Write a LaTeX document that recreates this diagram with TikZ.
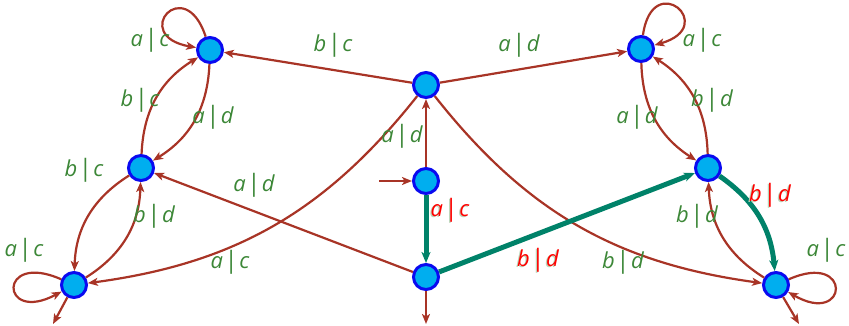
\documentclass[tikz,border=0pt]{standalone}
\usepackage{fontspec}
\setmainfont{Open Sans}
\usetikzlibrary{arrows.meta}
\definecolor{edgec}{RGB}{168,52,38}
\definecolor{labc}{RGB}{60,135,55}
\definecolor{hic}{RGB}{0,130,105}
\definecolor{nodef}{RGB}{0,174,239}
\definecolor{nodeb}{RGB}{10,10,240}
\definecolor{redc}{RGB}{255,0,0}
\tikzset{
  st/.style={circle,draw=nodeb,fill=nodef,line width=3pt,minimum size=25pt,inner sep=0pt},
  tr/.style={draw=edgec,line width=2.2pt,-{Stealth[length=10pt,width=8pt,inset=2.5pt]}},
  hl/.style={draw=hic,line width=5pt,-{Stealth[length=11pt,width=9pt,inset=3pt]}},
  lab/.style={text=labc,font=\fontsize{22}{22}\selectfont\itshape,inner sep=0pt},
  rlab/.style={text=redc,font=\fontsize{22}{22}\selectfont\itshape,inner sep=0pt},
  glab/.style={text=labc!35,font=\fontsize{22}{22}\selectfont\itshape,inner sep=0pt},
}
\newcommand{\io}[2]{#1\hspace{1.5pt}{\upshape\fontsize{24}{24}\selectfont|}\hspace{1.5pt}#2}
\newcommand{\redlab}[3]{\node[glab] at ([xshift=-1.2pt,yshift=-1.2pt]#1) {\io{#2}{#3}};\node[rlab] at (#1) {\io{#2}{#3}};}
\begin{document}
\begin{tikzpicture}[x=1pt,y=-1pt]
\useasboundingbox (0,0) rectangle (849,326);
% states
\node[st] (L1) at (210,50) {};
\node[st] (L2) at (141,168) {};
\node[st] (L3) at (74,285) {};
\node[st] (T) at (426,85) {};
\node[st] (S) at (426,181) {};
\node[st] (B) at (426,277) {};
\node[st] (R1) at (641,49) {};
\node[st] (R2) at (708,168) {};
\node[st] (R3) at (776,285) {};
\coordinate (in) at (379,181);
\coordinate (oL) at (53,324);
\coordinate (oB) at (426,324);
\coordinate (oR) at (799,324);
% transitions
\draw[tr] (in) -- (S);
\draw[tr] (T) -- (L1);
\draw[tr] (T) -- (R1);
\draw[tr] (T) to[bend left=22] (L3);
\draw[tr] (T) to[bend right=22] (R3);
\draw[tr] (B) -- (L2);
\draw[tr] (S) -- (T);
\draw[tr] (B) -- (oB);
\draw[tr] (L3) -- (oL);
\draw[tr] (R3) -- (oR);
\draw[tr] (L1) to[bend left=28] (L2);
\draw[tr] (L2) to[bend left=28] (L1);
\draw[tr] (L2) to[bend right=28] (L3);
\draw[tr] (L3) to[bend right=28] (L2);
\draw[tr] (R1) to[bend right=28] (R2);
\draw[tr] (R2) to[bend right=28] (R1);
\draw[tr] (R3) to[bend left=28] (R2);
\draw[tr] (L1) to[out=108,in=170,distance=68pt] (L1);
\draw[tr] (R1) to[out=82,in=16,distance=68pt] (R1);
\draw[tr] (L3) to[out=156,in=208,distance=70pt] (L3);
\draw[tr] (R3) to[out=24,in=-30,distance=70pt] (R3);
\draw[hl] (S) -- (B);
\draw[hl] (B) -- (R2);
\draw[hl] (R2) to[bend left=25] (R3);
% labels
\node[lab] (l1) at (333,45) {\io{b}{c}};
\node[lab] (l2) at (519,45) {\io{a}{d}};
\node[lab] (l3) at (230,262) {\io{a}{c}};
\node[lab] (l4) at (623,262) {\io{b}{d}};
\node[lab] (l5) at (254,185) {\io{a}{d}};
\node[lab] (l6) at (402,136) {\io{a}{d}};
\node[lab] (l7) at (213,117) {\io{a}{d}};
\node[lab] (l8) at (140,100) {\io{b}{c}};
\node[lab] (l9) at (84,170) {\io{b}{c}};
\node[lab] (l10) at (154,216) {\io{b}{d}};
\node[lab] (l11) at (637,117) {\io{a}{d}};
\node[lab] (l12) at (712,100) {\io{b}{d}};
\node[lab] (l13) at (697,216) {\io{b}{d}};
\node[lab] (l14) at (826,250) {\io{a}{c}};
\node[lab] (l15) at (702,40) {\io{a}{c}};
\node[lab] (l16) at (150,40) {\io{a}{c}};
\node[lab] (l17) at (24,250) {\io{a}{c}};
\redlab{450,210}{a}{c}
\redlab{538,260}{b}{d}
\redlab{770,195}{b}{d}
\end{tikzpicture}
\end{document}
